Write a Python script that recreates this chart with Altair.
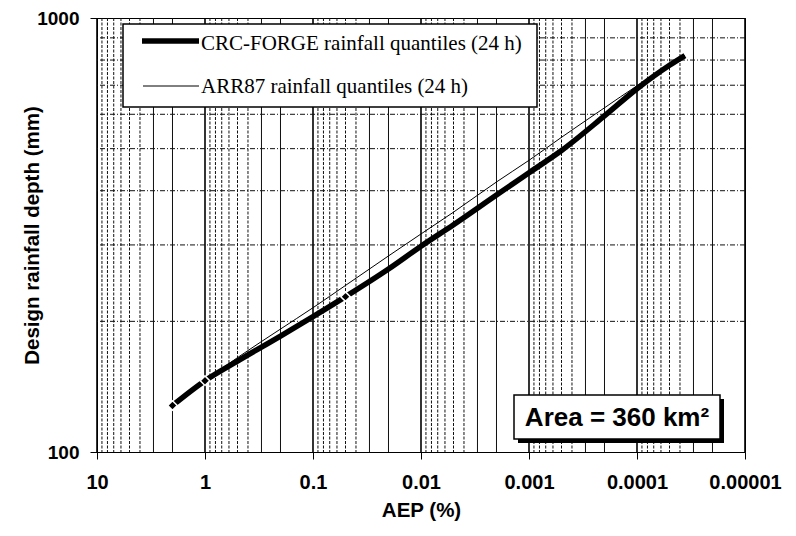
import altair as alt
import pandas as pd

# ---- data ----
aep = [2, 1, 0.5, 0.2, 0.1, 0.05, 0.02, 0.01, 0.005, 0.002, 0.001,
       0.0005, 0.0002, 0.0001, 0.00005, 0.000036]
crc_forge = [128, 146, 162, 185, 205, 228, 264, 298, 334, 391, 440,
             495, 595, 687, 778, 819]
arr87 = [128, 146, 165, 192, 215, 242, 283, 318, 357, 419, 470,
         531, 621, 698, 778, 819]
marker_aep = [2, 1, 0.05]          # CRC-FORGE points drawn with a white-edged marker
series_names = ["CRC-FORGE rainfall quantiles (24 h)",
                "ARR87 rainfall quantiles (24 h)"]
x_major = [10, 1, 0.1, 0.01, 0.001, 0.0001, 0.00001]
y_major = [100, 1000]
y_grid = [200, 300, 400, 500, 600, 700, 800, 900]
solid_mult = [2, 3]
dotted_mult = [4, 5, 6, 7, 8, 9]
annotation = "Area = 360 km²"

# ---- tables ----
lines_df = pd.DataFrame(
    [{"AEP": a, "depth": d, "series": series_names[0]} for a, d in zip(aep, crc_forge)]
    + [{"AEP": a, "depth": d, "series": series_names[1]} for a, d in zip(aep, arr87)]
)
markers_df = pd.DataFrame(
    [{"AEP": a, "depth": d} for a, d in zip(aep, crc_forge) if a in marker_aep])
decades = x_major[1:]
minor_solid = pd.DataFrame({"x": [m * d for d in decades for m in solid_mult]})
minor_dotted = pd.DataFrame({"x": [m * d for d in decades for m in dotted_mult]})
major_df = pd.DataFrame({"x": x_major})
ygrid_df = pd.DataFrame({"y": y_grid})
legend_df = pd.DataFrame({"series": series_names})
one = pd.DataFrame({"t": [annotation]})

xscale = alt.Scale(type="log", domain=[0.00001, 10], reverse=True, nice=False)
yscale = alt.Scale(type="log", domain=[100, 1000], nice=False)

FONT = "Liberation Sans"

xaxis = alt.Axis(values=x_major, format="~g", title="AEP (%)", grid=False,
                 labelFlush=False, labelOverlap=False,
                 labelFont=FONT, labelFontWeight="bold", labelFontSize=20,
                 labelColor="black", labelPadding=13, tickSize=7, tickColor="black",
                 domainColor="black", titleFont=FONT, titleFontWeight="bold",
                 titleFontSize=20.5, titleColor="black", titlePadding=8)
yaxis = alt.Axis(values=y_major, format="d", title="Design rainfall depth (mm)",
                 grid=False, labelFlush=False, labelOverlap=False,
                 labelFont=FONT, labelFontWeight="bold", labelFontSize=19,
                 labelColor="black", labelPadding=11, tickSize=7, tickColor="black",
                 domainColor="black", titleFont=FONT, titleFontWeight="bold",
                 titleFontSize=20.5, titleColor="black", titleX=-55)

grid_solid = alt.Chart(minor_solid).mark_rule(color="#111", strokeWidth=1).encode(
    x=alt.X("x:Q", scale=xscale, axis=xaxis))
grid_dotted = alt.Chart(minor_dotted).mark_rule(color="#111", strokeWidth=1,
                                                 strokeDash=[3, 1.5]).encode(
    x=alt.X("x:Q", scale=xscale))
grid_major = alt.Chart(major_df).mark_rule(color="black", strokeWidth=1.6).encode(
    x=alt.X("x:Q", scale=xscale))
grid_h = alt.Chart(ygrid_df).mark_rule(color="#111", strokeWidth=1,
                                       strokeDash=[5, 2, 1, 2]).encode(
    y=alt.Y("y:Q", scale=yscale, axis=yaxis))

sw_scale = alt.Scale(domain=series_names, range=[5.5, 1])

lines = alt.Chart(lines_df).mark_line(color="black", interpolate="monotone").encode(
    x=alt.X("AEP:Q", scale=xscale),
    y=alt.Y("depth:Q", scale=yscale),
    detail="series:N",
    strokeWidth=alt.StrokeWidth("series:N", scale=sw_scale, legend=None),
)
markers = alt.Chart(markers_df).mark_point(
    shape="diamond", filled=True, fill="black", stroke="white", strokeWidth=1.5,
    size=90, opacity=1).encode(
    x=alt.X("AEP:Q", scale=xscale),
    y=alt.Y("depth:Q", scale=yscale))

# ---- legend box (drawn by hand, top-left of plot) ----
leg_box = alt.Chart(one).mark_rect(fill="white", stroke="black", strokeWidth=1.5).encode(
    x=alt.value(26), x2=alt.value(440), y=alt.value(6), y2=alt.value(89))
leg_sym1 = alt.Chart(legend_df.iloc[[0]]).mark_rule(color="black").encode(
    x=alt.value(45), x2=alt.value(102), y=alt.value(23),
    strokeWidth=alt.StrokeWidth("series:N", scale=sw_scale, legend=None))
leg_sym2 = alt.Chart(legend_df.iloc[[1]]).mark_rule(color="black").encode(
    x=alt.value(46), x2=alt.value(102), y=alt.value(68),
    strokeWidth=alt.StrokeWidth("series:N", scale=sw_scale, legend=None))
leg_txt1 = alt.Chart(legend_df.iloc[[0]]).mark_text(
    font="Liberation Serif", fontSize=21, color="black", align="left",
    baseline="middle").encode(text="series:N", x=alt.value(104), y=alt.value(26))
leg_txt2 = alt.Chart(legend_df.iloc[[1]]).mark_text(
    font="Liberation Serif", fontSize=21, color="black", align="left",
    baseline="middle").encode(text="series:N", x=alt.value(104), y=alt.value(69))

# ---- "Area" annotation with drop shadow ----
shadow = alt.Chart(one).mark_rect(color="black").encode(
    x=alt.value(421), x2=alt.value(627), y=alt.value(381), y2=alt.value(425))
box = alt.Chart(one).mark_rect(fill="white", stroke="black", strokeWidth=1.5).encode(
    x=alt.value(417), x2=alt.value(623), y=alt.value(377), y2=alt.value(421))
label = alt.Chart(one).mark_text(
    font=FONT, fontWeight="bold", fontSize=26, color="black",
    align="center", baseline="middle").encode(
    text="t:N", x=alt.value(520), y=alt.value(400))

chart = alt.layer(
    grid_solid, grid_dotted, grid_major, grid_h, lines, markers,
    leg_box, leg_sym1, leg_sym2, leg_txt1, leg_txt2,
    shadow, box, label
).properties(
    width=648, height=434,
    autosize=alt.AutoSizeParams(type="none"),
    padding={"left": 89, "top": 10, "right": 43, "bottom": 76},
).configure_view(
    stroke="black", strokeWidth=1
)

chart.save("out.html", embed_options={"renderer": "svg", "actions": False})
